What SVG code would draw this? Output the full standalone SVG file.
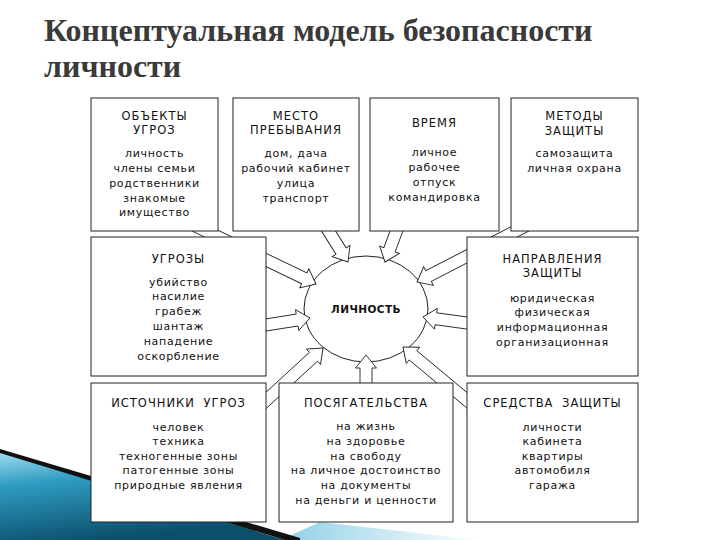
<svg xmlns="http://www.w3.org/2000/svg" width="720" height="540" viewBox="0 0 720 540">
<defs>
<style>
.box{fill:#fff;stroke:#222;stroke-width:1}
.h{font-family:"DejaVu Sans",sans-serif;font-size:11.5px;letter-spacing:1px;fill:#111;text-anchor:middle}
.t{font-family:"DejaVu Sans",sans-serif;font-size:11px;letter-spacing:0.7px;fill:#111;text-anchor:middle}
.arr{fill:#fff;stroke:#222;stroke-width:0.9;stroke-linejoin:miter}
.title{font-family:"Liberation Serif",serif;font-weight:bold;font-size:32px;fill:#3a3a3a}
</style>
<path id="arr" d="M0,0 L13,-10.5 L13,-6 L150,-6 L150,6 L13,6 L13,10.5 Z"/>
<linearGradient id="teal" x1="0" y1="0" x2="0.35" y2="1">
<stop offset="0" stop-color="#9fdcee"/>
<stop offset="0.35" stop-color="#2f9cc2"/>
<stop offset="1" stop-color="#0b4f6c"/>
</linearGradient>
<linearGradient id="light" x1="0" y1="0" x2="1" y2="0">
<stop offset="0" stop-color="#8fd0e6"/>
<stop offset="1" stop-color="#ffffff"/>
</linearGradient>
</defs>
<rect width="720" height="540" fill="#fff"/>
<g id="decor">
<polygon points="280,540 320,522 480,540" fill="url(#light)"/>
<polygon points="0,452 285,540 0,540" fill="url(#teal)"/>
<polygon points="0,449 300,538 300,540 285,540 0,453" fill="#111"/>
</g>
<g id="title">
<text class="title" x="44" y="41">Концептуальная модель безопасности</text>
<text class="title" x="44" y="77">личности</text>
</g>
<g id="center">
<ellipse cx="366" cy="309" rx="62" ry="53" fill="#fff" stroke="#222" stroke-width="1"/>
</g>
<g id="connectors">
<use href="#arr" class="arr" transform="translate(316,284) rotate(205.7)"/>
<use href="#arr" class="arr" transform="translate(348,262) rotate(237.8)"/>
<use href="#arr" class="arr" transform="translate(385,262) rotate(-69.7)"/>
<use href="#arr" class="arr" transform="translate(417,282) rotate(-27.3)"/>
<use href="#arr" class="arr" transform="translate(423,317) rotate(7.8)"/>
<use href="#arr" class="arr" transform="translate(403,347) rotate(39.8)"/>
<use href="#arr" class="arr" transform="translate(366,355) rotate(90)"/>
<use href="#arr" class="arr" transform="translate(323,348) rotate(137.4)"/>
<use href="#arr" class="arr" transform="translate(310,318) rotate(171)"/>
</g>
<text x="366" y="313" font-family="DejaVu Sans,sans-serif" font-weight="bold" font-size="10.5" letter-spacing="0.4" text-anchor="middle" fill="#111">ЛИЧНОСТЬ</text>
<g id="objects">
<rect class="box" x="91" y="98" width="127" height="133"/>
<text class="h" x="154.5" y="120">ОБЪЕКТЫ</text>
<text class="h" x="154.5" y="134">УГРОЗ</text>
<text class="t" x="154.5" y="157">личность</text>
<text class="t" x="154.5" y="172">члены семьи</text>
<text class="t" x="154.5" y="187">родственники</text>
<text class="t" x="154.5" y="202">знакомые</text>
<text class="t" x="154.5" y="216">имущество</text>
</g>
<g id="place">
<rect class="box" x="233" y="98" width="126" height="133"/>
<text class="h" x="296" y="120">МЕСТО</text>
<text class="h" x="296" y="134">ПРЕБЫВАНИЯ</text>
<text class="t" x="296" y="157">дом, дача</text>
<text class="t" x="296" y="172">рабочий кабинет</text>
<text class="t" x="296" y="187">улица</text>
<text class="t" x="296" y="202">транспорт</text>
</g>
<g id="time">
<rect class="box" x="370" y="98" width="129" height="133"/>
<text class="h" x="434.5" y="127">ВРЕМЯ</text>
<text class="t" x="434.5" y="156">личное</text>
<text class="t" x="434.5" y="171">рабочее</text>
<text class="t" x="434.5" y="186">отпуск</text>
<text class="t" x="434.5" y="201">командировка</text>
</g>
<g id="methods">
<rect class="box" x="511" y="98" width="127" height="133"/>
<text class="h" x="574.5" y="120">МЕТОДЫ</text>
<text class="h" x="574.5" y="135">ЗАЩИТЫ</text>
<text class="t" x="574.5" y="157">самозащита</text>
<text class="t" x="574.5" y="172">личная охрана</text>
</g>
<g id="threats">
<rect class="box" x="91" y="237" width="175" height="139"/>
<text class="h" x="178.5" y="263">УГРОЗЫ</text>
<text class="t" x="178.5" y="286">убийство</text>
<text class="t" x="178.5" y="300">насилие</text>
<text class="t" x="178.5" y="315">грабеж</text>
<text class="t" x="178.5" y="330">шантаж</text>
<text class="t" x="178.5" y="345">нападение</text>
<text class="t" x="178.5" y="360">оскорбление</text>
</g>
<g id="directions">
<rect class="box" x="467" y="237" width="171" height="139"/>
<text class="h" x="552.5" y="263">НАПРАВЛЕНИЯ</text>
<text class="h" x="552.5" y="277">ЗАЩИТЫ</text>
<text class="t" x="552.5" y="302">юридическая</text>
<text class="t" x="552.5" y="316">физическая</text>
<text class="t" x="552.5" y="331">информационная</text>
<text class="t" x="552.5" y="346">организационная</text>
</g>
<g id="sources">
<rect class="box" x="91" y="383" width="175" height="139"/>
<text class="h" x="178.5" y="407" word-spacing="4">ИСТОЧНИКИ УГРОЗ</text>
<text class="t" x="178.5" y="431">человек</text>
<text class="t" x="178.5" y="445">техника</text>
<text class="t" x="178.5" y="460">техногенные зоны</text>
<text class="t" x="178.5" y="474">патогенные зоны</text>
<text class="t" x="178.5" y="489">природные явления</text>
</g>
<g id="attacks">
<rect class="box" x="279" y="383" width="174" height="139"/>
<text class="h" x="366" y="407">ПОСЯГАТЕЛЬСТВА</text>
<text class="t" x="366" y="430">на жизнь</text>
<text class="t" x="366" y="445">на здоровье</text>
<text class="t" x="366" y="460">на свободу</text>
<text class="t" x="366" y="474">на личное достоинство</text>
<text class="t" x="366" y="489">на документы</text>
<text class="t" x="366" y="504">на деньги и ценности</text>
</g>
<g id="means">
<rect class="box" x="467" y="383" width="171" height="139"/>
<text class="h" x="552.5" y="407" word-spacing="4">СРЕДСТВА ЗАЩИТЫ</text>
<text class="t" x="552.5" y="431">личности</text>
<text class="t" x="552.5" y="445">кабинета</text>
<text class="t" x="552.5" y="460">квартиры</text>
<text class="t" x="552.5" y="474">автомобиля</text>
<text class="t" x="552.5" y="489">гаража</text>
</g>
</svg>
